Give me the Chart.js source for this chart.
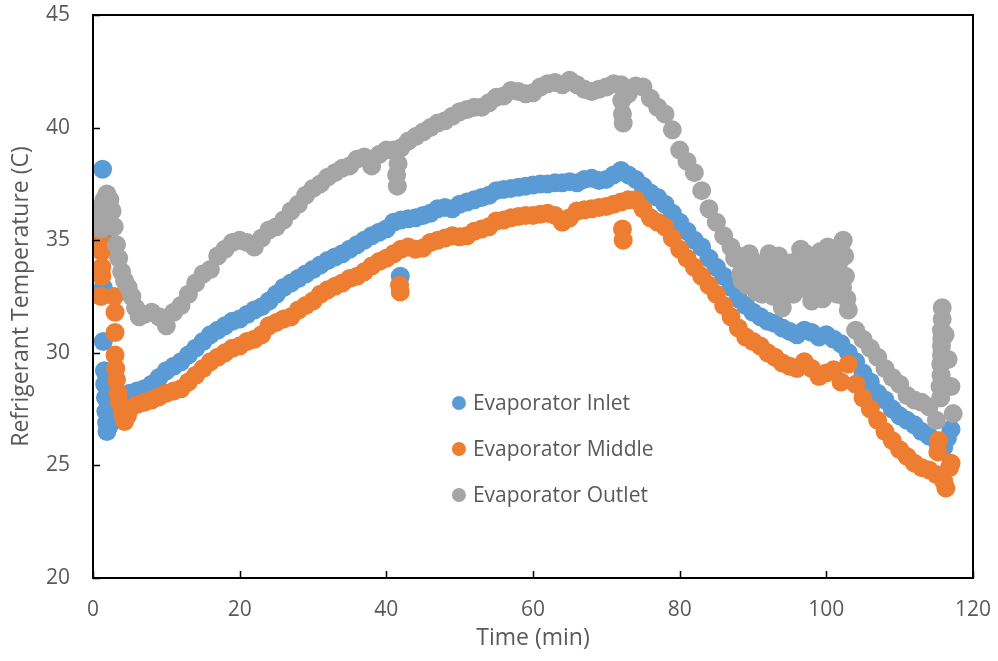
<!DOCTYPE html>
<html>
  <head>
    <title>Evaporator Temperatures</title>
    <script src="https://cdn.jsdelivr.net/npm/chart.js"></script>
    <style>
      body {
        margin: 0;
        background: #fff;
      }
    </style>
  </head>
  <body>
    <canvas id="tempChart" width="998" height="661"></canvas>
    <script>
      const seriesNames = ["Evaporator Inlet", "Evaporator Middle", "Evaporator Outlet"];
      const seriesColors = ["#5B9BD5", "#ED7D31", "#A5A5A5"];
      const xTicks = [0, 20, 40, 60, 80, 100, 120];
      const yTicks = [20, 25, 30, 35, 40, 45];

      // time (min) and temperature (C) for each probe
      const inletTime = [1.3, 1.4, 1.4, 1.4, 1.55, 1.6, 1.7, 1.75, 1.85, 1.9, 2.3, 2.7, 3.2,
        4, 5, 6, 7, 8, 9, 10, 11, 12, 13, 14, 15, 16, 17, 18, 19, 20, 21, 22, 23, 24, 25, 26, 27, 28, 29,
        30, 31, 32, 33, 34, 35, 36, 37, 38, 39, 40, 41, 41.9, 42, 43, 44, 45, 46, 47, 48, 49,
        50, 51, 52, 53, 54, 55, 56, 57, 58, 59, 60, 61, 62, 63, 64, 65, 66, 67, 68, 69,
        70, 71, 72, 73, 74, 75, 76, 77, 78, 79, 80, 81, 82, 83, 84, 85, 86, 87, 88, 89,
        90, 91, 92, 93, 94, 95, 96, 97, 98, 99, 100, 101, 102, 103, 104, 105, 106, 107, 108, 109,
        110, 111, 112, 113, 114, 115, 116, 116.5, 117];
      const inletTemp = [38.15, 35.3, 32.9, 30.5, 29.2, 28.6, 28.0, 27.4, 26.9, 26.5, 26.8, 27.3, 27.9,
        28.1, 28.2, 28.3, 28.4, 28.6, 28.9, 29.2, 29.4, 29.6, 29.9, 30.2, 30.5, 30.8, 31.0, 31.2, 31.4, 31.5, 31.7, 31.9, 32.05, 32.3, 32.6, 32.9, 33.1, 33.3, 33.5,
        33.7, 33.9, 34.1, 34.25, 34.4, 34.6, 34.8, 35.0, 35.2, 35.35, 35.5, 35.8, 33.4, 35.9, 35.95, 36.0, 36.1, 36.2, 36.4, 36.45, 36.4,
        36.6, 36.7, 36.8, 36.9, 37.0, 37.2, 37.25, 37.3, 37.35, 37.4, 37.45, 37.5, 37.5, 37.55, 37.55, 37.6, 37.55, 37.7, 37.75, 37.65,
        37.7, 37.9, 38.1, 37.9, 37.7, 37.4, 37.1, 36.9, 36.6, 36.2, 35.8, 35.4, 35.0, 34.7, 34.2, 33.8, 33.4, 32.9, 32.4, 32.1,
        31.8, 31.6, 31.4, 31.3, 31.1, 30.95, 30.8, 31.0, 30.9, 30.7, 30.8, 30.6, 30.4, 30.0, 29.6, 29.1, 28.7, 28.2, 27.9, 27.5,
        27.2, 27.0, 26.8, 26.5, 26.3, 26.1, 25.8, 26.2, 26.6];

      const middleTime = [1.1, 1.2, 1.2, 1.2, 1.1, 2.9, 3.0, 3.0, 3.0, 3.1, 3.2, 3.4, 3.6, 4.0, 4.3, 4.7,
        5, 6, 7, 8, 9, 10, 11, 12, 13, 14, 15, 16, 17, 18, 19, 20, 21, 22, 23, 24, 25, 26, 27, 28, 29,
        30, 31, 32, 33, 34, 35, 36, 37, 38, 39, 40, 41, 41.8, 41.9, 42, 43, 44, 45, 46, 47, 48, 49,
        50, 51, 52, 53, 54, 55, 56, 57, 58, 59, 60, 61, 62, 63, 64, 65, 66, 67, 68, 69,
        70, 71, 72, 72.2, 72.3, 73, 74, 75, 76, 77, 78, 79, 80, 81, 82, 83, 84, 85, 86, 87, 88, 89,
        90, 91, 92, 93, 94, 95, 96, 97, 98, 99, 100, 101, 102, 103, 104, 105, 106, 107, 108, 109,
        110, 111, 112, 113, 114, 115, 115.2, 115.3, 116, 116.3, 116.8, 117];
      const middleTemp = [35.0, 34.5, 33.8, 33.4, 32.5, 32.5, 31.8, 30.9, 29.9, 29.3, 28.8, 28.2, 27.8, 27.3, 26.95, 27.2,
        27.5, 27.7, 27.8, 27.9, 28.05, 28.2, 28.3, 28.4, 28.7, 29.0, 29.3, 29.6, 29.8, 30.0, 30.2, 30.3, 30.5, 30.6, 30.8, 31.2, 31.35, 31.5, 31.6, 31.9, 32.1,
        32.3, 32.6, 32.8, 32.95, 33.1, 33.3, 33.4, 33.6, 33.85, 34.05, 34.2, 34.4, 33.0, 32.7, 34.6, 34.7, 34.6, 34.65, 34.9, 35.0, 35.1, 35.2,
        35.15, 35.2, 35.4, 35.5, 35.6, 35.85, 35.9, 36.0, 36.05, 36.1, 36.1, 36.15, 36.2, 36.1, 35.8, 36.0, 36.3, 36.35, 36.4, 36.45,
        36.5, 36.6, 36.7, 35.5, 35.0, 36.8, 36.8, 36.4, 36.0, 35.8, 35.6, 35.1, 34.6, 34.2, 33.8, 33.4, 33.0, 32.6, 32.1, 31.6, 31.1, 30.7,
        30.5, 30.3, 30.0, 29.8, 29.55, 29.4, 29.3, 29.6, 29.3, 28.95, 29.1, 29.25, 28.7, 29.5, 28.6, 28.0, 27.5, 27.0, 26.5, 26.1,
        25.7, 25.4, 25.1, 24.9, 24.8, 24.6, 25.6, 26.1, 24.3, 24.0, 24.9, 25.1];

      const outletTime = [1.1, 1.1, 1.2, 1.5, 1.9, 2.3, 2.6, 2.9, 3.2, 3.5, 3.9, 4.3, 4.8, 5.3, 5.8, 6.3,
        7, 8, 9, 10, 11, 12, 13, 14, 15, 16, 17, 18, 19, 20, 21, 22, 23, 24, 25, 26, 27, 28, 29,
        30, 31, 32, 33, 34, 35, 36, 37, 38, 39, 40, 41, 41.4, 41.5, 41.6, 42, 43, 44, 45, 46, 47, 48, 49,
        50, 51, 52, 53, 54, 55, 56, 57, 58, 59, 60, 61, 62, 63, 64, 65, 66, 67, 68, 69,
        70, 71, 72, 72.1, 72.2, 72.3, 73, 74, 75, 76, 77, 78, 79, 80, 81, 82, 83, 84, 85, 86, 87, 87.5, 88, 88.5, 89, 89.5,
        90, 90.5, 91, 91.5, 92, 92.5, 93, 93.5, 94, 94.5, 95, 95.5, 96, 96.5, 97, 97.5, 98, 98.5, 99, 99.5,
        100, 100.2, 100.5, 101, 101.2, 101.5, 101.7, 102, 102.3, 102.5, 102.6, 102.8, 103, 104, 105, 106, 107, 108, 109,
        110, 111, 112, 113, 114, 115, 115.5, 115.6, 115.7, 115.7, 115.8, 116.2, 116.6, 117, 117.3,
        // scattered readings in the unsteady stretch near the end
        88.3, 89.2, 90.2, 90.8, 91.3, 92.2, 92.8, 93.2, 94.2, 94.8, 95.2, 95.8, 96.2, 96.8, 97.2, 97.8, 98.2, 98.8, 99.2, 99.8,
        100.8, 101.8, 102.2, 115.6, 115.65, 115.7, 115.75, 115.8];
      const outletTemp = [35.5, 36.0, 36.5, 36.8, 37.05, 36.8, 36.3, 35.6, 34.8, 34.2, 33.6, 33.2, 32.9, 32.5, 32.0, 31.6,
        31.7, 31.8, 31.6, 31.2, 31.8, 32.1, 32.6, 33.1, 33.5, 33.7, 34.3, 34.6, 34.9, 35.0, 34.9, 34.7, 35.1, 35.45, 35.6, 35.9, 36.3, 36.6, 37.0,
        37.3, 37.5, 37.8, 38.0, 38.2, 38.3, 38.6, 38.7, 38.3, 38.8, 39.0, 39.0, 37.9, 37.4, 38.4, 39.1, 39.4, 39.6, 39.8, 40.0, 40.2, 40.3, 40.5,
        40.7, 40.8, 40.9, 40.9, 41.1, 41.35, 41.4, 41.65, 41.6, 41.5, 41.55, 41.8, 41.95, 42.0, 41.9, 42.1, 41.9, 41.7, 41.6, 41.7,
        41.8, 41.95, 41.9, 41.2, 40.6, 40.2, 41.5, 41.85, 41.8, 41.3, 40.9, 40.6, 39.9, 39.0, 38.5, 38.0, 37.2, 36.4, 35.8, 35.2, 34.7, 34.2, 34.3, 33.2, 33.8, 34.4,
        33.6, 32.7, 33.4, 34.0, 33.0, 33.9, 33.6, 34.3, 32.0, 32.6, 33.3, 32.6, 33.8, 34.6, 33.9, 32.8, 32.3, 34.0, 33.8, 32.4,
        34.4, 34.7, 33.0, 34.2, 33.2, 32.6, 34.0, 34.8, 35.0, 34.3, 33.4, 32.4, 31.9, 31.0, 30.6, 30.2, 29.8, 29.3, 28.9,
        28.6, 28.1, 27.9, 27.8, 27.6, 27.0, 28.5, 29.5, 30.3, 31.0, 32.0, 30.8, 29.7, 28.5, 27.3,
        33.5, 33.0, 34.0, 33.2, 32.6, 34.4, 32.5, 33.0, 33.5, 33.9, 34.0, 33.4, 32.9, 33.2, 34.4, 33.5, 33.2, 32.9, 34.5, 33.3,
        33.8, 33.0, 32.9, 28.0, 29.0, 29.9, 30.6, 31.5];

      function toPoints(times, temps) {
        return times.map(function (t, i) {
          return { x: t, y: temps[i] };
        });
      }

      const fontFamily = "'Open Sans', sans-serif";
      const fontSize = 21;
      const titleSize = 23;
      const textColor = "#595959";

      // frame around the plot and tick marks pointing inward
      const framePlugin = {
        id: "frame",
        afterDraw: function (chart) {
          const ctx = chart.ctx;
          const area = chart.chartArea;
          const xs = chart.scales.x;
          const ys = chart.scales.y;
          ctx.save();
          ctx.strokeStyle = "#000";
          ctx.lineWidth = 2;
          ctx.strokeRect(area.left, area.top, area.right - area.left, area.bottom - area.top);
          ctx.beginPath();
          xTicks.forEach(function (v) {
            const px = Math.round(xs.getPixelForValue(v)) + 0.5;
            ctx.moveTo(px, area.bottom);
            ctx.lineTo(px, area.bottom - 7);
          });
          yTicks.forEach(function (v) {
            const py = Math.round(ys.getPixelForValue(v)) + 0.5;
            ctx.moveTo(area.left, py);
            ctx.lineTo(area.left + 7, py);
          });
          ctx.lineWidth = 1.5;
          ctx.stroke();
          ctx.restore();
        },
      };

      // legend drawn inside the plot area
      const legendPlugin = {
        id: "innerLegend",
        afterDraw: function (chart) {
          const ctx = chart.ctx;
          const xs = chart.scales.x;
          const ys = chart.scales.y;
          const left = xs.getPixelForValue(49.9);
          const top = ys.getPixelForValue(27.77);
          ctx.save();
          ctx.font = fontSize + "px " + fontFamily;
          ctx.textBaseline = "middle";
          chart.data.datasets.forEach(function (ds, i) {
            const cy = top + i * 46;
            ctx.fillStyle = ds.backgroundColor;
            ctx.beginPath();
            ctx.arc(left, cy, 7, 0, Math.PI * 2);
            ctx.fill();
            ctx.fillStyle = textColor;
            ctx.fillText(ds.label, left + 14, cy + 1);
          });
          ctx.restore();
        },
      };

      const data = {
        datasets: [
          {
            label: seriesNames[0],
            data: toPoints(inletTime, inletTemp),
            backgroundColor: seriesColors[0],
            order: 2,
          },
          {
            label: seriesNames[1],
            data: toPoints(middleTime, middleTemp),
            backgroundColor: seriesColors[1],
            order: 1,
          },
          {
            label: seriesNames[2],
            data: toPoints(outletTime, outletTemp),
            backgroundColor: seriesColors[2],
            order: 0,
          },
        ],
      };

      const config = {
        type: "scatter",
        data: data,
        options: {
          responsive: false,
          animation: false,
          elements: {
            point: { radius: 9.5, borderWidth: 0, hoverRadius: 9.5 },
          },
          layout: { padding: 0 },
          plugins: {
            legend: { display: false },
            tooltip: { enabled: false },
          },
          scales: {
            x: {
              type: "linear",
              min: 0,
              max: 120,
              afterFit: function (scale) {
                scale.height = 83;
                scale.paddingLeft = 0;
                scale.paddingRight = 25;
              },
              afterBuildTicks: function (scale) {
                scale.ticks = xTicks.map(function (v) {
                  return { value: v };
                });
              },
              grid: { display: false, drawTicks: false },
              border: { display: false },
              ticks: {
                padding: 19,
                color: textColor,
                font: { family: fontFamily, size: fontSize },
              },
              title: {
                display: true,
                text: "Time (min)",
                color: textColor,
                font: { family: fontFamily, size: titleSize },
                padding: { top: 0, bottom: 9 },
              },
            },
            y: {
              min: 20,
              max: 45,
              afterFit: function (scale) {
                scale.width = 93;
                scale.paddingTop = 15;
                scale.paddingBottom = 0;
              },
              afterBuildTicks: function (scale) {
                scale.ticks = yTicks.map(function (v) {
                  return { value: v };
                });
              },
              grid: { display: false, drawTicks: false },
              border: { display: false },
              ticks: {
                padding: 23,
                color: textColor,
                font: { family: fontFamily, size: fontSize },
              },
              title: {
                display: true,
                text: "Refrigerant Temperature (C)",
                color: textColor,
                font: { family: fontFamily, size: titleSize },
                padding: { top: 8, bottom: 0 },
              },
            },
          },
        },
        plugins: [framePlugin, legendPlugin],
      };

      new Chart(document.getElementById("tempChart"), config);
    </script>
  </body>
</html>
